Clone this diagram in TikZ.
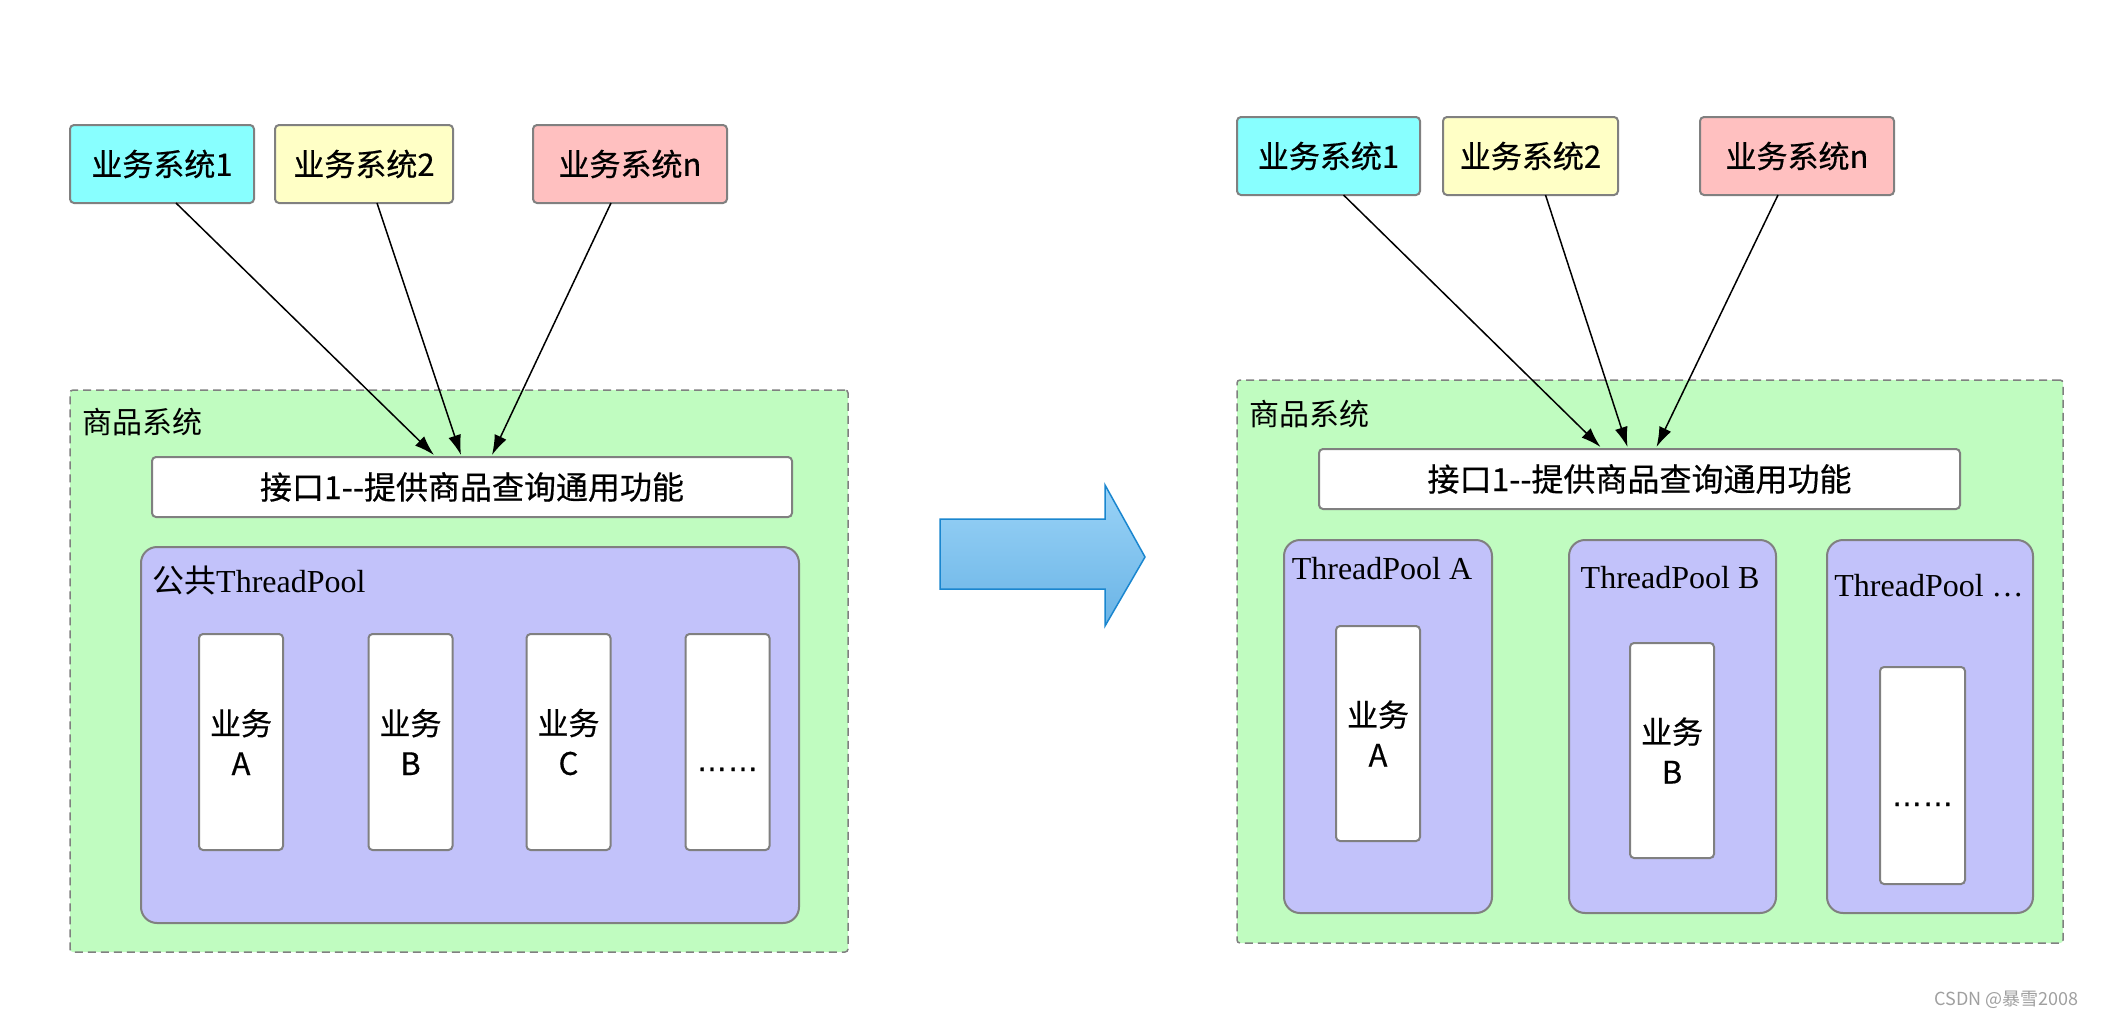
\documentclass[tikz,border=0pt]{standalone}
\usepackage{fontspec}
\setmainfont{Noto Sans CJK SC}
\newfontfamily\cjkb[FakeBold=0.5]{Noto Sans CJK SC}
\newfontfamily\serifmix{Liberation Serif}
\newfontfamily\arialf[FakeBold=1]{Liberation Sans}
\usetikzlibrary{arrows.meta,calc}
\definecolor{cyanbox}{HTML}{88FFFF}
\definecolor{yellowbox}{HTML}{FFFFC6}
\definecolor{pinkbox}{HTML}{FFC0C0}
\definecolor{greenbg}{HTML}{C0FCC0}
\definecolor{poolbg}{HTML}{C2C2FA}
\definecolor{edgegray}{HTML}{808080}
\definecolor{arrowtop}{HTML}{9AD3F7}
\definecolor{arrowbot}{HTML}{6AB4E6}
\definecolor{arrowedge}{HTML}{1A86CF}
\definecolor{wmgray}{HTML}{A0A0A0}
\begin{document}
\begin{tikzpicture}[x=1pt,y=-1pt,
  basebox/.style={draw=edgegray, line width=2pt, inner sep=0pt, outer sep=0pt},
  sysbox/.style={basebox, rounded corners=4pt, minimum height=78pt, font=\cjkb\fontsize{31}{36}\selectfont},
  container/.style={draw=edgegray, fill=greenbg, line width=1.5pt, dash pattern=on 8pt off 5pt, rounded corners=3pt, inner sep=0pt, outer sep=0pt},
  ifbox/.style={basebox, fill=white, rounded corners=4pt, minimum height=60pt, font=\cjkb\fontsize{32}{38}\selectfont},
  pool/.style={basebox, fill=poolbg, rounded corners=16pt},
  colbox/.style={basebox, fill=white, rounded corners=4pt, minimum width=84pt, minimum height=216pt, align=center, font=\cjkb\fontsize{31}{40}\selectfont},
  syslabel/.style={anchor=west, inner sep=0pt, font=\fontsize{30}{36}\selectfont},
  poollabel/.style={inner sep=0pt, font=\fontsize{32}{38}\selectfont},
  dots/.style={anchor=base, inner sep=0pt, font=\arialf\fontsize{31}{36}\selectfont},
  conn/.style={line width=1.5pt, -{Latex[length=20pt,width=13pt]}}
]
\fill[white] (0,0) rectangle (2106,1018);
\useasboundingbox (0,0) rectangle (2106,1018);

% ---------------- Left ----------------
\node[container, minimum width=778pt, minimum height=562pt] (Lsys) at (459,671) {};
\node[syslabel] (Llab) at (82,422) {商品系统};
\node[sysbox, fill=cyanbox, minimum width=184pt] (L1) at (162,164) {业务系统1};
\node[sysbox, fill=yellowbox, minimum width=178pt] (L2) at (364,164) {业务系统2};
\node[sysbox, fill=pinkbox, minimum width=194pt] (Ln) at (630,164) {业务系统n};
\node[ifbox, minimum width=640pt] (Lif) at (472,487) {接口1-{}-提供商品查询通用功能};
\node[pool, minimum width=658pt, minimum height=376pt] (Lpool) at (470,735) {};
\node[poollabel, anchor=west] (Lplab) at (152,580) {公共{\serifmix ThreadPool}};
\node[colbox] (LA) at (241,742) {业务\\A};
\node[colbox] (LB) at (410.5,742) {业务\\B};
\node[colbox] (LC) at (568.5,742) {业务\\C};
\node[colbox] (LD) at (727.5,742) {};
\node[dots] (LDd) at (727.5,771) {……};

\draw[conn] ([xshift=14pt]L1.south) -- ([xshift=-38pt,yshift=2pt]Lif.north);
\draw[conn] ([xshift=13pt]L2.south) -- ([xshift=-11pt,yshift=2pt]Lif.north);
\draw[conn] ([xshift=-19pt]Ln.south) -- ([xshift=20pt,yshift=2pt]Lif.north);

% ---------------- Big arrow ----------------
\path[draw=arrowedge, line width=1.5pt, top color=arrowtop, bottom color=arrowbot, line join=miter]
  (940,519) -- (1105,519) -- (1105,485) -- (1145,557) -- (1105,626) -- (1105,589) -- (940,589) -- cycle;

% ---------------- Right ----------------
\node[container, minimum width=826pt, minimum height=563pt] (Rsys) at (1650,661.5) {};
\node[syslabel] (Rlab) at (1249,414) {商品系统};
\node[sysbox, fill=cyanbox, minimum width=183pt] (R1) at (1328.5,156) {业务系统1};
\node[sysbox, fill=yellowbox, minimum width=175pt] (R2) at (1530.5,156) {业务系统2};
\node[sysbox, fill=pinkbox, minimum width=194pt] (Rn) at (1797,156) {业务系统n};
\node[ifbox, minimum width=641pt] (Rif) at (1639.5,479) {接口1-{}-提供商品查询通用功能};

\node[pool, minimum width=208pt, minimum height=373pt] (RpA) at (1388,726.5) {};
\node[pool, minimum width=207pt, minimum height=373pt] (RpB) at (1672.5,726.5) {};
\node[pool, minimum width=206pt, minimum height=373pt] (RpC) at (1930,726.5) {};
\node[poollabel] (RlA) at (1382,569) {\serifmix ThreadPool A};
\node[poollabel] (RlB) at (1670,578) {\serifmix ThreadPool B};
\node[poollabel] (RlC) at (1929,586) {\serifmix ThreadPool …};
\node[colbox, minimum height=215pt] (RA) at (1378,733.5) {业务\\A};
\node[colbox, minimum height=215pt] (RB) at (1672,750.5) {业务\\B};
\node[colbox, minimum height=217pt, minimum width=85pt] (RC) at (1922.5,775.5) {};
\node[dots] (RCd) at (1922.5,806) {……};

\draw[conn] ([xshift=15pt]R1.south) -- ([xshift=-39pt,yshift=2pt]Rif.north);
\draw[conn] ([xshift=15pt]R2.south) -- ([xshift=-12pt,yshift=2pt]Rif.north);
\draw[conn] ([xshift=-19pt]Rn.south) -- ([xshift=17pt,yshift=2pt]Rif.north);

% watermark
\node[anchor=east, inner sep=0pt, text=wmgray, font=\fontsize{18}{22}\selectfont] (wm) at (2079,1000) {CSDN @暴雪2008};
\end{tikzpicture}
\end{document}
